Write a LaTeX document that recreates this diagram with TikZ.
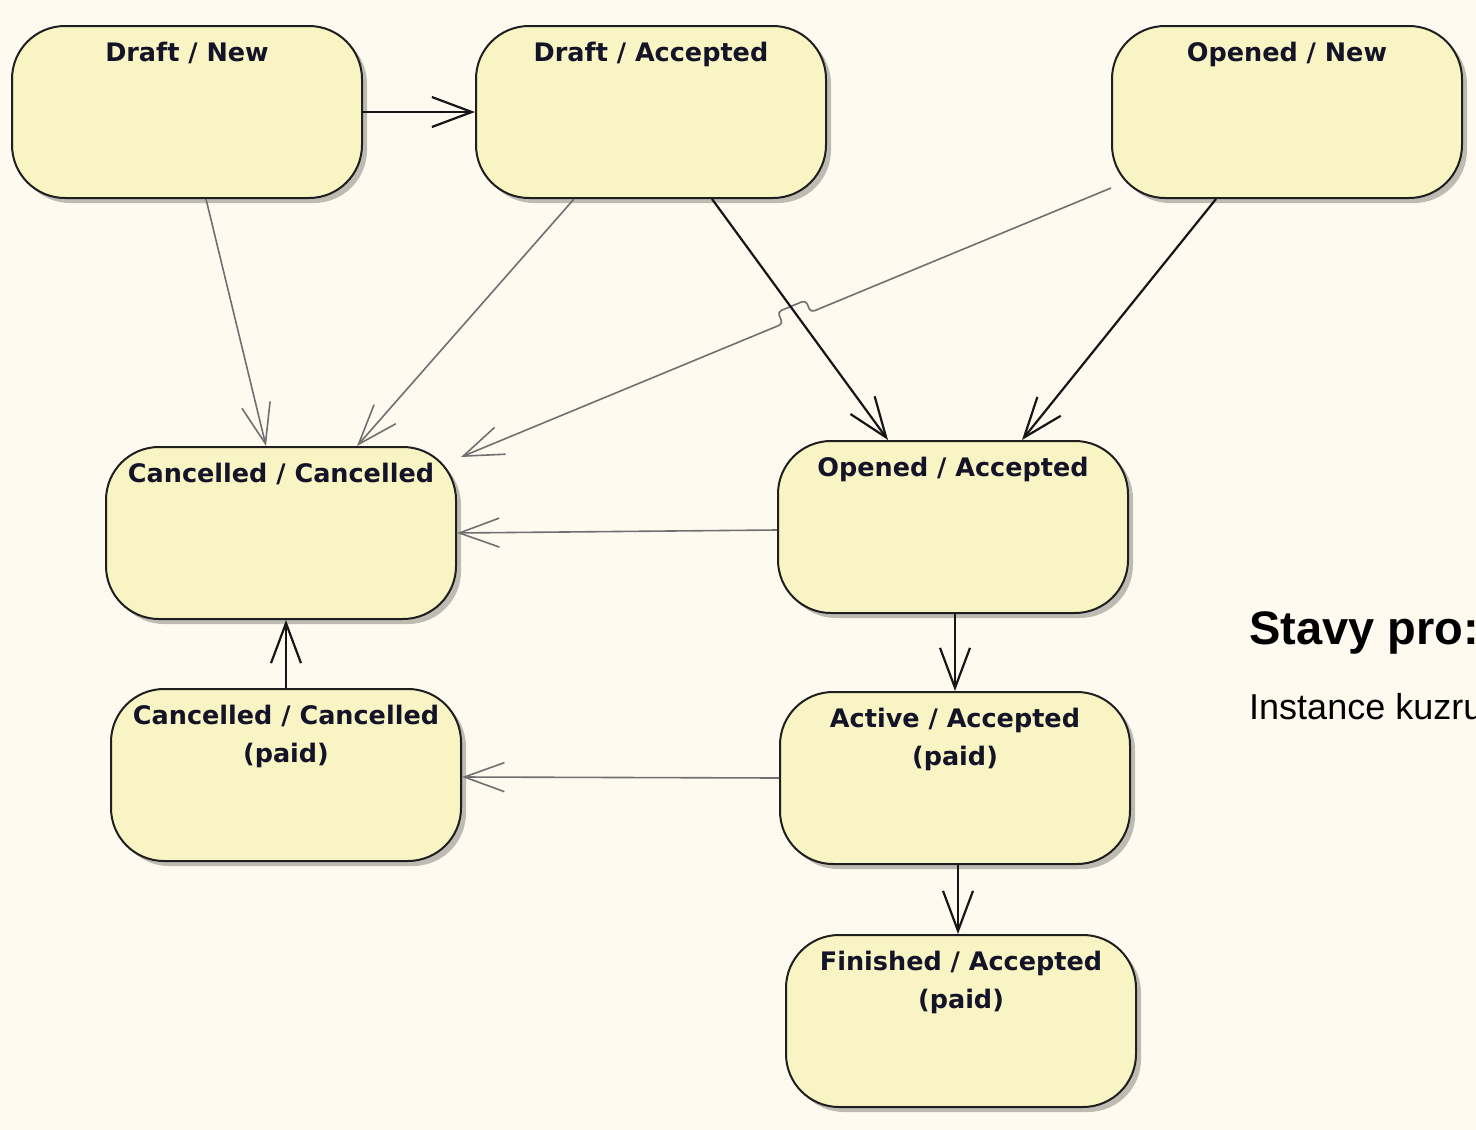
\documentclass[tikz,border=0pt]{standalone}
\usepackage{fontspec}
\newfontfamily\statefont{DejaVu Sans}
\newfontfamily\notefont{Liberation Sans}
\usetikzlibrary{arrows.meta,calc,shadows}
\definecolor{bgc}{RGB}{254,250,240}
\definecolor{statefill}{RGB}{248,244,196}
\definecolor{edgegray}{RGB}{112,112,112}
\definecolor{edgeblack}{RGB}{22,22,22}
\definecolor{txtc}{RGB}{20,20,40}
\begin{document}
\begin{tikzpicture}[x=1pt,y=-1pt,
  state/.style={draw=black!88, line width=2pt, fill=statefill, rounded corners=53pt,
    minimum width=350pt, minimum height=172pt, inner sep=0pt,
    drop shadow={shadow xshift=5pt,shadow yshift=-5pt,fill=black,opacity=0.25}},
  stxt/.style={anchor=north, inner sep=0pt, align=center, text=txtc,
    font=\statefont\bfseries\fontsize{25.5}{38}\selectfont},
  blk/.style={draw=edgeblack, line width=2.2pt, -{Straight Barb[length=40pt,width=30pt]}},
  gry/.style={draw=edgegray, line width=1.6pt, -{Straight Barb[length=40pt,width=29pt]}}]
\useasboundingbox[fill=bgc] (0,0) rectangle (1476,1130);

% states
\node[state] (dn) at (187,112) {};
\node[state] (da) at (651,112) {};
\node[state] (on) at (1287,112) {};
\node[state] (cc) at (281,533) {};
\node[state] (oa) at (953,527) {};
\node[state] (ccp) at (286,775) {};
\node[state] (aa) at (955,778) {};
\node[state] (fa) at (961,1021) {};

\node[stxt] (dnt) at ($(dn.north)+(0,17)$) {Draft / New};
\node[stxt] (dat) at ($(da.north)+(0,17)$) {Draft / Accepted};
\node[stxt] (ont) at ($(on.north)+(0,17)$) {Opened / New};
\node[stxt] (cct) at ($(cc.north)+(0,17)$) {Cancelled / Cancelled};
\node[stxt] (oat) at ($(oa.north)+(0,17)$) {Opened / Accepted};
\node[stxt] (ccpt) at ($(ccp.north)+(0,17)$) {Cancelled / Cancelled\\(paid)};
\node[stxt] (aat) at ($(aa.north)+(0,17)$) {Active / Accepted\\(paid)};
\node[stxt] (fat) at ($(fa.north)+(0,17)$) {Finished / Accepted\\(paid)};

% note
\node[anchor=base west, inner sep=0pt, font=\notefont\bfseries\fontsize{47}{56}\selectfont] (title) at (1249,644) {Stavy pro:};
\node[anchor=base west, inner sep=0pt, font=\notefont\fontsize{36}{42}\selectfont] (sub) at (1249,719) {Instance kuzru};

% transitions
\draw[blk] (dn.east) -- (da.west);
\draw[gry] ($(dn.south)+(19,0)$) -- ($(cc.north)+(-15,0)$);
\draw[gry] ($(da.south)+(-77,0)$) -- ($(cc.north)+(76,0)$);
\coordinate (onout) at ($(on.south west)+(0,-11)$);
\coordinate (ccin) at ($(cc.north east)+(4,11)$);
\coordinate (h2) at ($(onout)!0.462!(ccin)$);
\coordinate (h1) at ($(onout)!0.505!(ccin)$);
\draw[gry, rounded corners=4pt] (onout) -- (h2) -- ($(h2)+(-5,-12)$)
   -- ($(h1)+(-5,-12)$) -- (h1) -- (ccin);
\draw[blk] ($(da.south)+(61,0)$) -- ($(oa.north)+(-65,0)$);
\draw[blk] ($(on.south)+(-71,0)$) -- ($(oa.north)+(69,0)$);
\draw[gry] ($(oa.west)+(0,3)$) -- (cc.east);
\draw[blk] ($(oa.south)+(2,0)$) -- (aa.north);
\draw[blk] (ccp.north) -- ($(cc.south)+(5,0)$);
\draw[gry] (aa.west) -- ($(ccp.east)+(0,2)$);
\draw[blk] ($(aa.south)+(3,0)$) -- ($(fa.north)+(-3,0)$);
\end{tikzpicture}
\end{document}
